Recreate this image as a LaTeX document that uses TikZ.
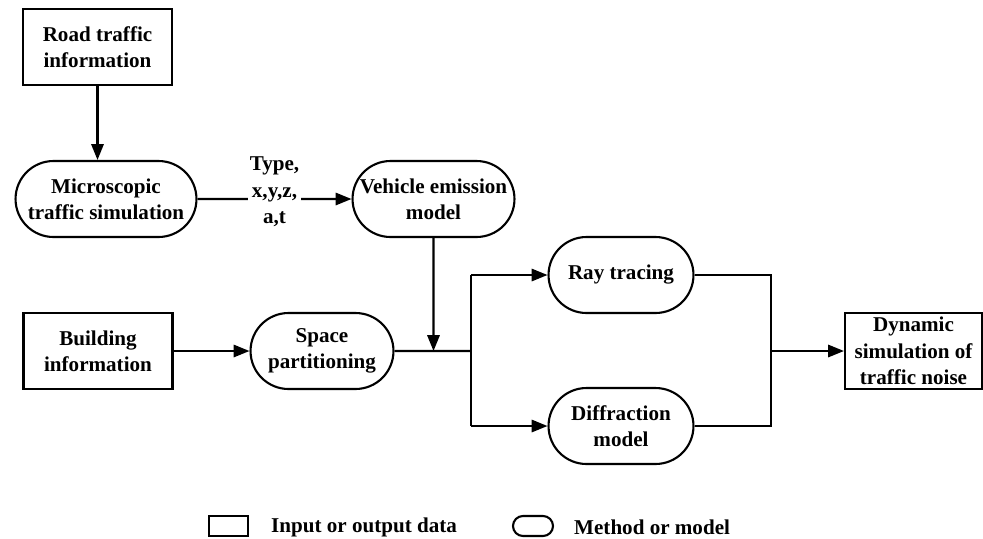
\documentclass[tikz,border=0pt]{standalone}
\usepackage{fontspec}
\setmainfont{Liberation Serif}
\usetikzlibrary{arrows.meta,shapes.misc}

\tikzset{
  every node/.style={font=\fontsize{12}{15}\selectfont\bfseries, align=center},
  databox/.style={draw, rectangle, line width=1.2pt, inner sep=2pt, minimum width=2.98cm, minimum height=1.52cm},
  methodbox/.style={draw, rounded rectangle, line width=1.2pt, inner sep=2pt, minimum width=3cm, minimum height=1.52cm},
  flow/.style={line width=1.2pt, -{Triangle[length=9pt,width=7pt]}},
  link/.style={line width=1.2pt}
}

\begin{document}
\begin{tikzpicture}[x=0.02cm, y=-0.02cm]
		\useasboundingbox (0,0) rectangle (983,538);
		% input and output data
		\node[databox] (Road)     at (97.5,47)  {Road traffic\\information};
		\node[databox] (Building) at (98,351)   {Building\\information};
		\node[databox, minimum width=2.74cm] (Dynamic) at (913.5,351) {Dynamic\\simulation of\\traffic noise};
		% methods and models
		\node[methodbox, minimum width=3.76cm] (Micro)   at (106,199)   {Microscopic\\traffic simulation};
		\node[methodbox, minimum width=3.38cm] (Vehicle) at (433.5,199) {Vehicle emission\\model};
		\node[methodbox] (Space)       at (322,351) {Space\\partitioning};
		\node[methodbox, minimum width=3.04cm] (Ray)  at (621,275) {Ray tracing};
		\node[methodbox, minimum width=3.04cm] (Diff) at (621,426) {Diffraction\\model};
		% junctions
		\coordinate (Split) at (471,351);
		\coordinate (Merge) at (771,351);
		\coordinate (Join)  at (Vehicle.south |- Split);

		\draw[flow] (Road.south) -- (Road.south |- Micro.north);
		\draw[flow] (Micro) -- (Vehicle)
			node[midway, fill=white, inner sep=1pt, yshift=4pt] (Attr) {Type,\\x,y,z,\\a,t};
		\draw[flow] (Building) -- (Space);
		\draw[flow] (Vehicle) -- (Join);
		\draw[link] (Space) -- (Split);
		\draw[link] (Split |- Ray) -- (Split |- Diff);
		\draw[flow] (Split |- Ray) -- (Ray);
		\draw[flow] (Split |- Diff) -- (Diff);
		\draw[link] (Ray) -| (Merge) |- (Diff);
		\draw[flow] (Merge) -- (Dynamic);

		% legend
		\node[draw, rectangle, line width=1.2pt, minimum width=0.78cm, minimum height=0.4cm, inner sep=0pt] (KeyData) at (228.5,526) {};
		\node[anchor=west] (KeyDataText) at (265,527) {Input or output data};
		\node[draw, rounded rectangle, line width=1.2pt, minimum width=0.8cm, minimum height=0.4cm, inner sep=0pt] (KeyMethod) at (533,526) {};
		\node[anchor=west] (KeyMethodText) at (568,527) {Method or model};
	  \end{tikzpicture}
\end{document}
